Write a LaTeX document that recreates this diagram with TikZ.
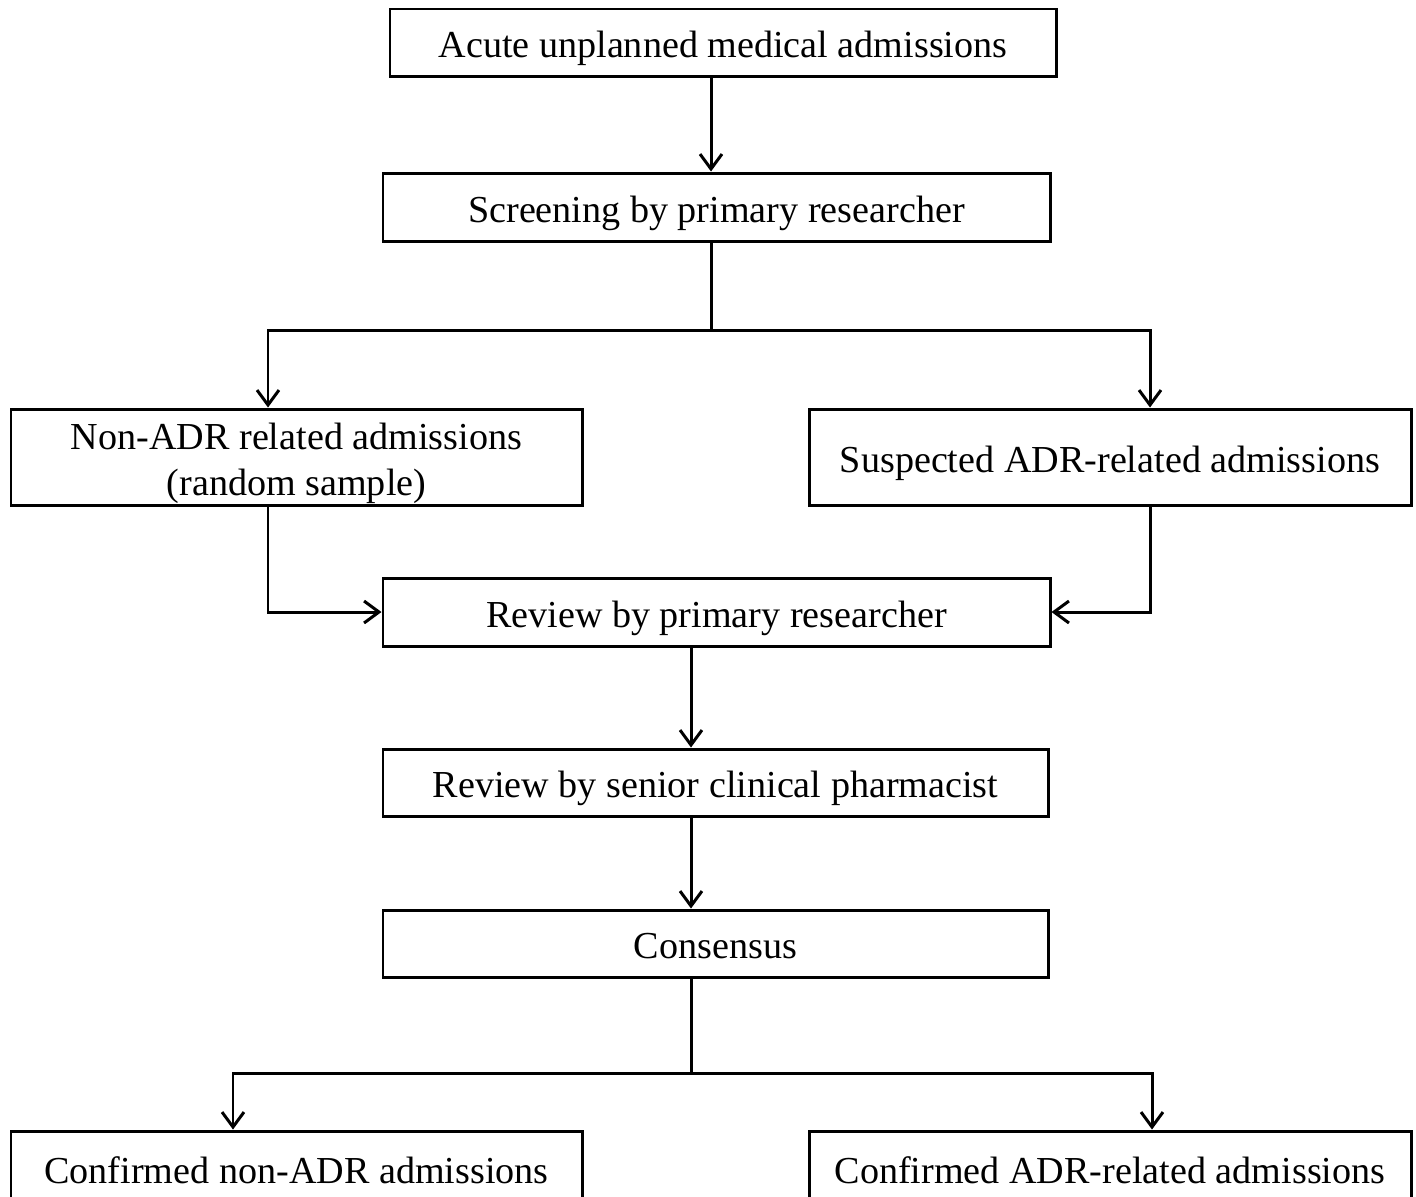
\documentclass[tikz,border=0pt]{standalone}
\usepackage{fontspec}
\setmainfont{Liberation Serif}
\usetikzlibrary{arrows.meta}
\begin{document}
\begin{tikzpicture}[every node/.style={align=center, draw, line width=1.7pt, font=\fontsize{21.7}{26}\selectfont, inner sep=0pt, text height=0.78cm, text depth=0.17cm},
  >={Straight Barb[length=8.5pt, width=12.5pt]}, line width=1.7pt]
  \useasboundingbox (0,0) rectangle (28.32,-23.92);
  \clip (0,0) rectangle (28.32,-23.92);
  \node[minimum width=13.32cm, minimum height=1.34cm] (acute) at (14.46,-0.85){Acute unplanned medical admissions};
  \node[minimum width=13.34cm, minimum height=1.36cm] (screen) at (14.33,-4.14){Screening by primary researcher};
  \node[minimum width=11.42cm, minimum height=1.92cm, text height=1.697cm] (nonadr) at (5.93,-9.14){Non-ADR related admissions\\(random sample)};
  \node[minimum width=12.04cm, minimum height=1.92cm] (suspect) at (22.2,-9.14){Suspected ADR-related admissions};
  \node[minimum width=13.34cm, minimum height=1.36cm] (review1) at (14.33,-12.24){Review by primary researcher};
  \node[minimum width=13.3cm, minimum height=1.34cm] (review2) at (14.31,-15.65){Review by senior clinical pharmacist};
  \node[minimum width=13.3cm, minimum height=1.34cm] (consensus) at (14.31,-18.87){Consensus};
  \node[minimum width=11.42cm, minimum height=1.48cm] (confnon) at (5.93,-23.36){Confirmed non-ADR admissions};
  \node[minimum width=12.04cm, minimum height=1.48cm] (confadr) at (22.2,-23.36){Confirmed ADR-related admissions};
  \coordinate (split1) at (14.22,-6.6);
  \coordinate (split2) at (13.82,-21.46);
  \draw[->] (acute.south -| split1) -- (screen.north -| split1);
  \draw (screen.south -| split1) -- (split1);
  \draw[->] (split1) -| ([xshift=-0.57cm]nonadr.north);
  \draw[->] (split1) -| ([xshift=0.8cm]suspect.north);
  \draw[->] ([xshift=-0.57cm]nonadr.south) |- (review1.west);
  \draw[->] ([xshift=0.8cm]suspect.south) |- (review1.east);
  \draw[->] (review1.south -| split2) -- (review2.north -| split2);
  \draw[->] (review2.south -| split2) -- (consensus.north -| split2);
  \draw (consensus.south -| split2) -- (split2);
  \draw[->] (split2) -| ([xshift=-1.27cm]confnon.north);
  \draw[->] (split2) -| ([xshift=0.84cm]confadr.north);
\end{tikzpicture}
\end{document}
